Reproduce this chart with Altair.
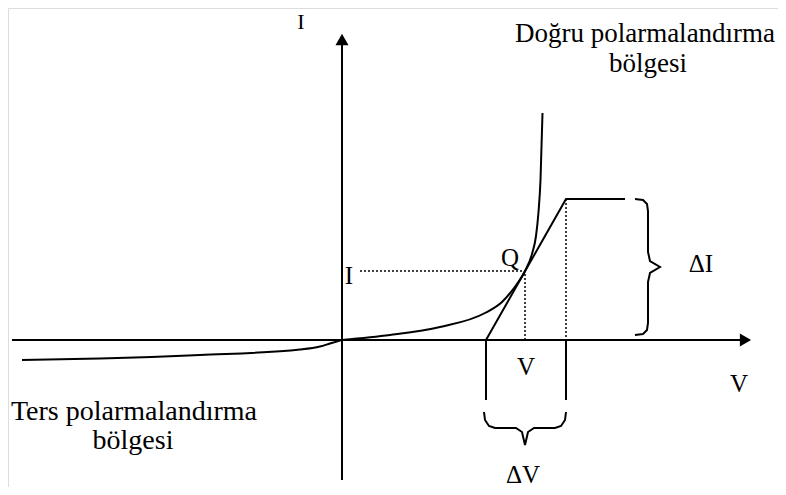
import altair as alt
import pandas as pd

FONT = "Liberation Serif"

# Diagram coordinates: origin at the axes crossing, V to the right, I upwards
# Forward-bias characteristic
fwd_v = [0, 48, 98, 143, 160, 172, 183, 190, 194, 196.5, 198.5, 200.5]
fwd_i = [0, 5, 13, 27, 38, 52, 69, 86, 104, 128, 160, 227]
# Reverse-bias characteristic
rev_v = [-320, -242, -142, -42, -22, -12, 0]
rev_i = [-20, -18.5, -15, -9.5, -6.5, -3.5, 0]
# Tangent at Q and its top step
tan_v = [144, 224, 283]
tan_i = [0, 141, 141]
# Q operating point
q_v, q_i = 183, 69
# Delta V bracket legs
leg_v = [144, 224]
leg_bottom = -60
# Right brace (Delta I)
bri_v = [293, 301, 305, 306, 306, 308, 318, 308, 306, 306, 305, 301, 293]
bri_i = [141, 140, 136, 129, 88, 79, 73, 67, 58, 17, 10, 6, 5]
# Bottom brace (Delta V)
brv_v = [142, 143, 147, 153, 174, 180, 183, 186, 192, 213, 219, 223, 224]
brv_i = [-72, -80, -86, -88, -88, -92, -105, -92, -88, -88, -86, -80, -72]
# Axes
vaxis_v, vaxis_i = [0, 0], [-140, 297]
haxis_v, haxis_i = [-330, 400], [0, 0]

# Labels (position = centre / baseline)
lab_text = ["I", "I", "Q", "V", "V", "ΔI", "ΔV",
            "Doğru polarmalandırma", "bölgesi",
            "Ters polarmalandırma", "bölgesi"]
lab_v = [-41, 7, 168, 184, 397, 359, 181, 303, 306, -208, -209]
lab_i = [311, 56, 74, -35, -52, 68, -143, 298, 268, -80, -109]
lab_size = [22, 25, 25, 25, 25, 25, 25, 27, 27, 28, 28]

rows = []
def add(g, vs, is_):
    for k, (v, i) in enumerate(zip(vs, is_)):
        rows.append({"g": g, "k": k, "v": v, "i": i})

add("fwd", fwd_v, fwd_i)
add("rev", rev_v, rev_i)
curves = pd.DataFrame(rows)

rows = []
add("tan", tan_v, tan_i)
add("leg1", [leg_v[0], leg_v[0]], [0, leg_bottom])
add("leg2", [leg_v[1], leg_v[1]], [0, leg_bottom])
add("bri", bri_v, bri_i)
add("brv", brv_v, brv_i)
add("vax", vaxis_v, vaxis_i)
add("hax", haxis_v, haxis_i)
solid = pd.DataFrame(rows)

rows = []
add("dq", [18, q_v, q_v], [q_i, q_i, 0])
add("dt", [tan_v[1], tan_v[1]], [tan_i[1], 0])
dotted = pd.DataFrame(rows)

heads = pd.DataFrame({"v": [0, 403.5], "i": [300.5, 0],
                      "shape": ["triangle-up", "triangle-right"]})
labels = pd.DataFrame({"t": lab_text, "v": lab_v, "i": lab_i, "s": lab_size})

xs = alt.Scale(domain=[-334, 436], nice=False, zero=False)
ys = alt.Scale(domain=[-147, 332], nice=False, zero=False)
X = alt.X("v:Q", scale=xs, axis=None)
Y = alt.Y("i:Q", scale=ys, axis=None)

curve_layer = alt.Chart(curves).mark_line(color="black", strokeWidth=2, interpolate="monotone").encode(
    x=X, y=Y, detail="g:N")
lines = alt.Chart(solid).mark_line(color="black", strokeWidth=2, interpolate="linear").encode(
    x=X, y=Y, detail="g:N", order="k:Q")
dots = alt.Chart(dotted).mark_line(color="black", strokeWidth=1.5, strokeDash=[2, 2]).encode(
    x=X, y=Y, detail="g:N", order="k:Q")
arrows = alt.Chart(heads).mark_point(filled=True, color="black", size=169, opacity=1).encode(
    x=X, y=Y, shape=alt.Shape("shape:N", scale=None))
texts = alt.Chart(labels).mark_text(font=FONT, color="black",
                                    align="center", baseline="alphabetic").encode(
    x=X, y=Y, text="t:N", size=alt.Size("s:Q", scale=None))

chart = alt.layer(curve_layer, lines, dots, arrows, texts).properties(
    width=770, height=479, padding=0, autosize=alt.AutoSizeParams(type="none")
).configure_view(stroke=None).configure(background="white")

chart.save("out.html", embed_options={"renderer": "svg", "actions": False})
